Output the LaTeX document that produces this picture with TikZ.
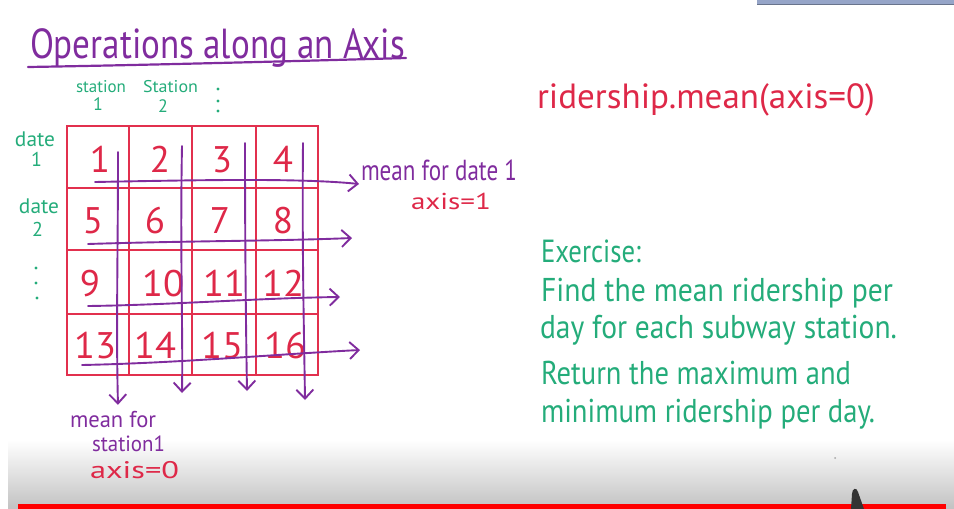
\documentclass[tikz,border=0pt]{standalone}
\usepackage{fontspec}
\setmainfont{PT Sans}
\usetikzlibrary{arrows.meta}
\definecolor{hpurple}{RGB}{128,44,158}
\definecolor{hred}{RGB}{222,40,72}
\definecolor{gridred}{RGB}{226,48,78}
\definecolor{hgreen}{RGB}{36,172,122}
\definecolor{barblue}{RGB}{150,165,200}
\newcommand\hw[2]{\resizebox{#1}{\height}{#2}}
\newcommand\fs[1]{\fontsize{#1}{#1}\selectfont}
\tikzset{
  txt/.style={inner sep=0pt, outer sep=0pt, anchor=base west},
  ptxt/.style={txt, text=hpurple},
  rtxt/.style={txt, text=hred},
  gtxt/.style={txt, text=hgreen},
  numtxt/.style={inner sep=0pt, anchor=base, text=hred},
  gridline/.style={draw=gridred, line width=2.4pt},
  parrow/.style={draw=hpurple, line width=1.9pt, line cap=round,
    -{Straight Barb[length=9pt,width=17pt,line width=1.9pt]}},
  dotg/.style={fill=hgreen, draw=none},
}
\begin{document}
\begin{tikzpicture}[x=1pt,y=-1pt]
\useasboundingbox (0,0) rectangle (954,509);
% bottom gradient and bars
\shade[top color=white, bottom color=black!24, draw=none] (8,440) rectangle (954,509);
\fill[red] (18,504) rectangle (946,509);
\fill[barblue] (757,0) rectangle (954,4.5);
\fill[barblue!70!black] (757,3.5) rectangle (954,4.5);
% pen tip
\fill[black!80] (851,509) -- (852,494) .. controls (852,488) and (857,487) .. (858,492) -- (864,509) -- cycle;
\fill[black!35] (835,458) circle (1pt);

% title
\node[ptxt] (title) at (30,58) {\hw{375pt}{\fs{42}Operations along an Axis}};
\coordinate (ulA) at (28,67);
\coordinate (ulB) at (406,58);
\draw[draw=hpurple, line width=2.2pt, line cap=round] (ulA) .. controls (150,65) and (300,61) .. (ulB);

% station labels
\node[gtxt] (st1) at (76,92) {\hw{50pt}{\fs{17}station}};
\node[gtxt] (st1n) at (93,110) {\fs{18}1};
\node[gtxt] (st2) at (143,92) {\hw{55pt}{\fs{17}Station}};
\node[gtxt] (st2n) at (158,112) {\fs{18}2};
\fill[dotg] (218,89) circle (1.6);
\fill[dotg] (218,101) circle (1.6);
\fill[dotg] (218,111) circle (1.6);

% date labels
\node[gtxt] (d1) at (15,146) {\hw{40pt}{\fs{21}date}};
\node[gtxt] (d1n) at (31,166) {\fs{20}1};
\node[gtxt] (d2) at (19,213) {\hw{40pt}{\fs{21}date}};
\node[gtxt] (d2n) at (32,236) {\fs{20}2};
\fill[dotg] (36,268) circle (1.6);
\fill[dotg] (36,283) circle (1.6);
\fill[dotg] (37,298) circle (1.6);

% grid
\draw[gridline] (67,126) rectangle (318,375);
\draw[gridline] (129,126) -- (129,375);
\draw[gridline] (192,126) -- (192,375);
\draw[gridline] (256,126) -- (256,375);
\draw[gridline] (67,188) -- (318,188);
\draw[gridline] (67,250) -- (318,250);
\draw[gridline] (67,314) -- (318,314);

% numbers
\node[numtxt] (n1) at (100,172) {\fs{37}1};
\node[numtxt] (n2) at (160,172) {\fs{37}2};
\node[numtxt] (n3) at (222,172) {\fs{37}3};
\node[numtxt] (n4) at (283,172) {\fs{37}4};
\node[numtxt] (n5) at (93,233) {\fs{37}5};
\node[numtxt] (n6) at (155,233) {\fs{37}6};
\node[numtxt] (n7) at (220,233) {\fs{37}7};
\node[numtxt] (n8) at (283,233) {\fs{37}8};
\node[numtxt] (n9) at (90,296) {\fs{37}9};
\node[numtxt] (n10) at (163,296) {\hw{42pt}{\fs{37}10}};
\node[numtxt] (n11) at (224,296) {\hw{42pt}{\fs{37}11}};
\node[numtxt] (n12) at (283,296) {\hw{42pt}{\fs{37}12}};
\node[numtxt] (n13) at (95,358) {\hw{42pt}{\fs{37}13}};
\node[numtxt] (n14) at (155,358) {\hw{42pt}{\fs{37}14}};
\node[numtxt] (n15) at (222,358) {\hw{42pt}{\fs{37}15}};
\node[numtxt] (n16) at (285,358) {\hw{42pt}{\fs{37}16}};

% labels
\node[ptxt] (mdate) at (361,180) {\hw{156pt}{\fs{29}mean for date 1}};
\node[rtxt] (ax1) at (411,209) {\hw{80pt}{\fs{23}axis=1}};
\node[ptxt] (mfor) at (70,427) {\hw{86pt}{\fs{23}mean for}};
\node[ptxt] (mst) at (92,451) {\hw{73pt}{\fs{22}station1}};
\node[rtxt] (ax0) at (90,478) {\hw{89pt}{\fs{24}axis=0}};

\node[rtxt] (code) at (537,108) {\hw{338pt}{\fs{35}ridership.mean(axis=0)}};

\node[gtxt] (ex0) at (541,262) {\hw{100pt}{\fs{32}Exercise:}};
\node[gtxt] (ex1) at (541,301) {\hw{352pt}{\fs{33}Find the mean ridership per}};
\node[gtxt] (ex2) at (540,338) {\hw{357pt}{\fs{33}day for each subway station.}};
\node[gtxt] (ex3) at (541,384) {\hw{310pt}{\fs{33}Return the maximum and}};
\node[gtxt] (ex4) at (541,422) {\hw{334pt}{\fs{33}minimum ridership per day.}};

% horizontal arrows
\coordinate (h1s) at (95,182);
\coordinate (h2s) at (88,244);
\coordinate (h2e) at (352,238);
\coordinate (h3s) at (88,306);
\coordinate (h3e) at (340,297);
\coordinate (h4s) at (82,365);
\coordinate (h4e) at (360,350);
\draw[parrow] (h1s) .. controls (200,180) and (300,178) .. ([xshift=-2pt,yshift=-4pt]mdate.base west);
\draw[parrow] (h2s) .. controls (180,241) and (280,241) .. (h2e);
\draw[parrow] (h3s) .. controls (170,305) and (260,298) .. (h3e);
\draw[parrow] (h4s) .. controls (180,363) and (280,354) .. (h4e);

% vertical arrows
\coordinate (v1s) at (118,152);
\coordinate (v2s) at (182,146);
\coordinate (v2e) at (182,393);
\coordinate (v3s) at (245,143);
\coordinate (v3e) at (247,391);
\coordinate (v4s) at (303,143);
\coordinate (v4e) at (305,400);
\draw[parrow] (v1s) .. controls (118,250) and (116,330) .. ([yshift=6pt]mfor.north -| v1s);
\draw[parrow] (v2s) .. controls (180,250) and (183,330) .. (v2e);
\draw[parrow] (v3s) .. controls (245,250) and (246,330) .. (v3e);
\draw[parrow] (v4s) .. controls (302,250) and (304,330) .. (v4e);
\end{tikzpicture}
\end{document}
